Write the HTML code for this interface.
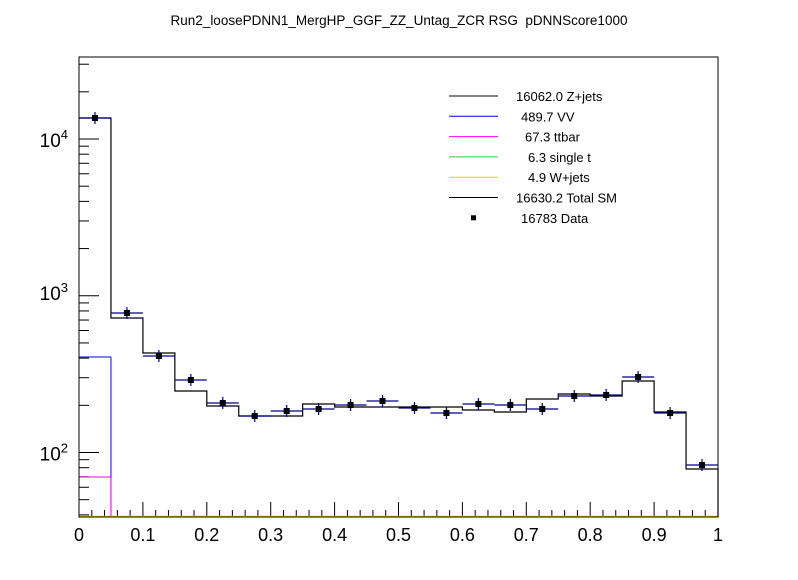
<!DOCTYPE html>
<html><head><meta charset="utf-8"><style>
html,body{margin:0;padding:0;background:#fff;}
svg text{font-family:"Liberation Sans",Arial,sans-serif;}
</style></head><body>
<svg id="s" width="798" height="575" xmlns="http://www.w3.org/2000/svg">
<rect x="0" y="0" width="798" height="575" fill="#fff"/>
<text x="399" y="25" font-size="13.5" text-anchor="middle">Run2_loosePDNN1_MergHP_GGF_ZZ_Untag_ZCR RSG &#160;pDNNScore1000</text>
<g id="g"></g>
</svg>
<script>
var L=79,R=718,T=57,B=517,bw=(R-L)/20;
function yv(v){return 452.5-156.75*(Math.log10(v)-2);}
var h='';
function ln(x1,y1,x2,y2,c,w){h+='<line x1="'+x1+'" y1="'+y1+'" x2="'+x2+'" y2="'+y2+'" stroke="'+c+'" stroke-width="'+(w||1)+'"/>';}
for(var i=0;i<=50;i++){var x=L+(R-L)*i/50;ln(x,B,x,B-(i%5==0?15:7),'#000');}
for(var i=0;i<=10;i++){var x=L+(R-L)*i/10;var t=i==0?'0':(i==10?'1':(i/10).toFixed(1));h+='<text x="'+x+'" y="541" font-size="18" text-anchor="middle">'+t+'</text>';}
for(var e=1;e<=4;e++)for(var m=1;m<10;m++){var v=m*Math.pow(10,e);var y=yv(v);if(y<T||y>B)continue;ln(L,y,L+(m==1?20:10),y,'#000');}
[[2,452.5],[3,292],[4,139]].forEach(function(a){h+='<text x="68" y="'+(a[1]+8)+'" font-size="19" text-anchor="end">10<tspan dy="-8" font-size="13">'+a[0]+'</tspan></text>';});
ln(L,357,L+bw,357,'#00f');ln(L+bw,357,L+bw,B,'#00f');
ln(L,477,L+bw,477,'#f0f');ln(L+bw,477,L+bw,B,'#f0f');
ln(L,B-0.5,R,B-0.5,'#fc0',1.5);
var tot=[118,318,353,391,406,416,416,404,407,407,407,407,410,412,399,394,396,381,412,469];
var d='M'+L+' '+tot[0];
for(var i=0;i<20;i++){d+=' L'+(L+bw*i)+' '+tot[i]+' L'+(L+bw*(i+1))+' '+tot[i];}
d+=' L'+R+' '+B;
h+='<path d="'+d+'" fill="none" stroke="#000" stroke-width="1.2"/>';
var dat=[118,313,356,380,403,416,411,409,405,401,408,413,404,405,409,396,395,377,413,465];
for(var i=0;i<20;i++){var cx=L+bw*(i+0.5),y=dat[i];ln(L+bw*i,y,L+bw*(i+1),y,'#00008b',1.2);ln(cx,y-6,cx,y+6,'#00008b',1.2);h+='<rect x="'+(cx-3)+'" y="'+(y-3)+'" width="6" height="6" fill="#000"/>';}
h+='<rect x="'+L+'" y="'+T+'" width="'+(R-L)+'" height="'+(B-T)+'" fill="none" stroke="#000" stroke-width="1"/>';
var leg=[['#000','16062.0 Z+jets',516],['#00f','489.7 VV',521],['#f0f','67.3 ttbar',525],['#3c3','6.3 single t',528],['#fc0','4.9 W+jets',528],['#000','16630.2 Total SM',516],['pt','16783 Data',521]];
for(var i=0;i<7;i++){var y=96+i*20.3;if(leg[i][0]=='pt'){h+='<rect x="471" y="'+(y-2.5)+'" width="5" height="5" fill="#000"/>';}else ln(449,y,498,y,leg[i][0]);h+='<text x="'+leg[i][2]+'" y="'+(y+5)+'" font-size="13">'+leg[i][1]+'</text>';}
document.getElementById('g').innerHTML=h;
</script>
</body></html>
